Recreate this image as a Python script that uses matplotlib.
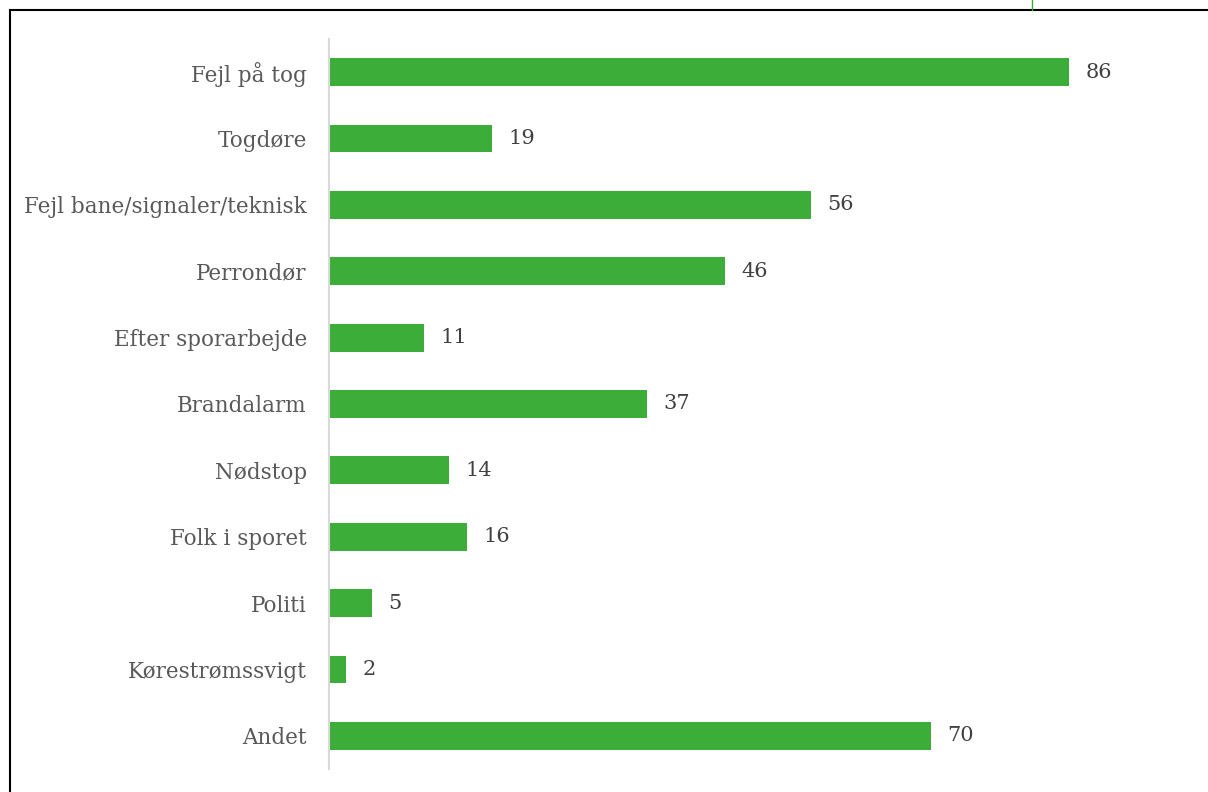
import matplotlib
matplotlib.use("Agg")
import matplotlib.pyplot as plt
from matplotlib.lines import Line2D

categories = ["Fejl på tog", "Togdøre", "Fejl bane/signaler/teknisk", "Perrondør",
              "Efter sporarbejde", "Brandalarm", "Nødstop", "Folk i sporet",
              "Politi", "Kørestrømssvigt", "Andet"]
values = [86, 19, 56, 46, 11, 37, 14, 16, 5, 2, 70]

W, H = 1208, 792
fig = plt.figure(figsize=(W / 100, H / 100), dpi=100)
fig.patch.set_facecolor("white")

left = 329 / W
right = 1189.5 / W
bottom = (H - 769) / H
top = (H - 39) / H
ax = fig.add_axes([left, bottom, right - left, top - bottom])

font = "DejaVu Serif"
text_color = "#595959"
bar_color = "#3DAD39"

y = list(range(len(categories)))
ax.barh(y, values, height=0.42, color=bar_color)
ax.set_ylim(len(categories) - 0.5, -0.5)
ax.set_xlim(0, 100)
ax.set_yticks(y)
ax.set_yticklabels(categories, fontfamily=font, fontsize=15.5, color=text_color)
ax.tick_params(axis="y", length=0, pad=16)
ax.set_xticks([])
for s in ["top", "right", "bottom"]:
    ax.spines[s].set_visible(False)
ax.spines["left"].set_color("#d9d9d9")
ax.spines["left"].set_linewidth(1.5)

for yi, v in zip(y, values):
    ax.text(v + 1.9, yi, str(v), va="center", ha="left", fontfamily=font,
            fontsize=15, color="#404040")

# frame lines
fig.add_artist(Line2D([9.5 / W, 1.0], [1 - 9.5 / H, 1 - 9.5 / H], color="black", lw=1.5,
                      transform=fig.transFigure))
fig.add_artist(Line2D([9.5 / W, 9.5 / W], [0, 1 - 9.5 / H], color="black", lw=1.5,
                      transform=fig.transFigure))
fig.add_artist(Line2D([1032 / W, 1032 / W], [1 - 9.5 / H, 1.0], color="#3DAD39", lw=1,
                      transform=fig.transFigure))

fig.savefig("out.png", dpi=100)
